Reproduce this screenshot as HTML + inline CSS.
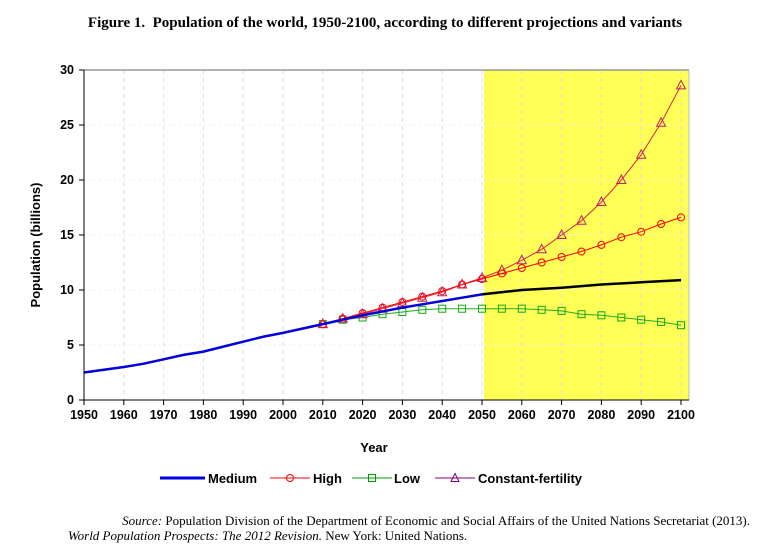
<!DOCTYPE html><html><head><meta charset="utf-8"><style>
body{margin:0;background:#fff;width:770px;height:550px;overflow:hidden}
text{font-family:"Liberation Sans",Arial,sans-serif}
</style></head><body>
<svg id="s" width="770" height="550" xmlns="http://www.w3.org/2000/svg">
<text x="385" y="27" text-anchor="middle" xml:space="preserve" style="font-family:'Liberation Serif',serif;font-weight:bold;font-size:15px">Figure 1.  Population of the world, 1950-2100, according to different projections and variants</text>
<rect x="484" y="70" width="205" height="330" fill="#ffff55"/>
<g id="g"></g>
<line x1="84" y1="70" x2="689" y2="70" stroke="#999" stroke-width="1.5"/>
<line x1="689" y1="70" x2="689" y2="400" stroke="#bbb"/>
<line x1="84" y1="70" x2="84" y2="400" stroke="#000"/>
<line x1="84" y1="400" x2="689" y2="400" stroke="#000"/>
<text x="374" y="452" text-anchor="middle" font-weight="bold" font-size="13">Year</text>
<text transform="translate(40,245) rotate(-90)" text-anchor="middle" font-weight="bold" font-size="13">Population (billions)</text>
<line x1="160" y1="478" x2="205" y2="478" stroke="#0000e0" stroke-width="3"/>
<text x="208" y="483" font-weight="bold" font-size="13">Medium</text>
<line x1="270" y1="478" x2="310" y2="478" stroke="red"/><circle cx="290" cy="478" r="3.5" fill="none" stroke="red"/>
<text x="313" y="483" font-weight="bold" font-size="13">High</text>
<line x1="352" y1="478" x2="392" y2="478" stroke="#090"/><rect x="368.5" y="474.5" width="7" height="7" fill="none" stroke="#090"/>
<text x="394" y="483" font-weight="bold" font-size="13">Low</text>
<line x1="435" y1="478" x2="475" y2="478" stroke="purple"/><polygon points="455,473.5 459,481.5 451,481.5" fill="none" stroke="purple"/>
<text x="478" y="483" font-weight="bold" font-size="13">Constant-fertility</text>
<text x="750" y="525" text-anchor="end" style="font-family:'Liberation Serif',serif;font-size:13px"><tspan font-style="italic">Source:</tspan> Population Division of the Department of Economic and Social Affairs of the United Nations Secretariat (2013).</text>
<text x="68" y="540" style="font-family:'Liberation Serif',serif;font-size:13px"><tspan font-style="italic">World Population Prospects: The 2012 Revision.</tspan> New York: United Nations.</text>
</svg>
<script>
var g=document.getElementById('g'),h='';
function X(y){return 84+3.98*(y-1950)}function Y(v){return 400-11*v}
for(var y=1960;y<=2100;y+=10)h+='<line x1="'+X(y)+'" y1="70" x2="'+X(y)+'" y2="400" stroke="#ddd" stroke-dasharray="4,4"/>';
for(var v=5;v<30;v+=5)h+='<line x1="84" y1="'+Y(v)+'" x2="689" y2="'+Y(v)+'" stroke="#eee" stroke-dasharray="2,3"/>';
for(var y=1950;y<=2100;y+=10){h+='<line x1="'+X(y)+'" y1="400" x2="'+X(y)+'" y2="405" stroke="#000"/><text x="'+X(y)+'" y="419" text-anchor="middle" font-weight="bold" font-size="12.5">'+y+'</text>';}
for(var v=0;v<=30;v+=5){h+='<line x1="79" y1="'+Y(v)+'" x2="84" y2="'+Y(v)+'" stroke="#000"/><text x="74" y="'+(Y(v)+4)+'" text-anchor="end" font-weight="bold" font-size="12.5">'+v+'</text>';}
function pts(a,s,st){return a.map(function(v,i){return X(s+i*st)+','+Y(v)}).join(' ')}
var hi=[6.9,7.4,7.9,8.4,8.9,9.4,9.9,10.5,11.0,11.5,12.0,12.5,13.0,13.5,14.1,14.8,15.3,16.0,16.6];
var lo=[6.9,7.3,7.5,7.8,8.0,8.2,8.3,8.3,8.3,8.3,8.3,8.2,8.1,7.8,7.7,7.5,7.3,7.1,6.8];
var cf=[6.9,7.4,7.8,8.3,8.8,9.3,9.8,10.5,11.1,11.8,12.7,13.7,15.0,16.3,18.0,20.0,22.3,25.2,28.6];
var me=[2.5,2.75,3.0,3.3,3.7,4.1,4.4,4.85,5.3,5.75,6.1,6.5,6.9,7.3,7.7,8.05,8.4,8.7,9.0,9.3,9.6];
var me2=[9.6,10.0,10.2,10.5,10.7,10.9];
h+='<polyline points="'+pts(lo,2010,5)+'" fill="none" stroke="#2a2"/>';
lo.forEach(function(v,i){h+='<rect x="'+(X(2010+5*i)-3.5)+'" y="'+(Y(v)-3.5)+'" width="7" height="7" fill="none" stroke="#1a1"/>'});
h+='<polyline points="'+pts(cf,2010,5)+'" fill="none" stroke="#e02040"/>';
cf.forEach(function(v,i){var x=X(2010+5*i),y=Y(v);h+='<polygon points="'+x+','+(y-5)+' '+(x+4.5)+','+(y+3.5)+' '+(x-4.5)+','+(y+3.5)+'" fill="none" stroke="#c02060"/>'});
h+='<polyline points="'+pts(hi,2010,5)+'" fill="none" stroke="red"/>';
hi.forEach(function(v,i){h+='<circle cx="'+X(2010+5*i)+'" cy="'+Y(v)+'" r="3.5" fill="none" stroke="red"/>'});
h+='<polyline points="'+pts(me,1950,5)+'" fill="none" stroke="#0000e0" stroke-width="2.5"/>';
h+='<polyline points="'+pts(me2,2050,10)+'" fill="none" stroke="#000" stroke-width="2.5"/>';
g.innerHTML=h;
</script>
</body></html>
